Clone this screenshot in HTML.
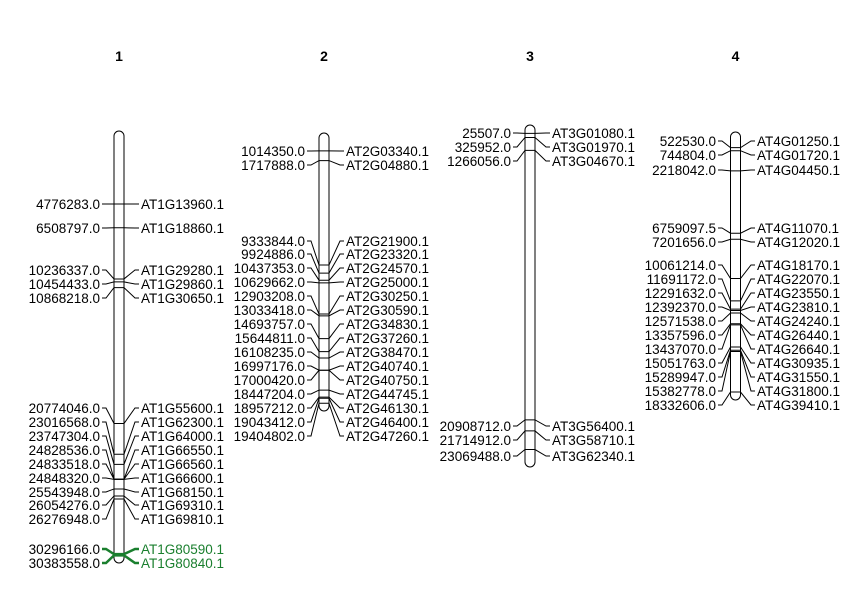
<!DOCTYPE html>
<html><head><meta charset="utf-8"><style>
html,body{margin:0;padding:0;background:#fff;}
svg text{font-family:"Liberation Sans",Arial,sans-serif;font-size:13.5px;}
</style></head><body>
<svg id="s" width="858" height="608" xmlns="http://www.w3.org/2000/svg"></svg>
<script>
var S=13.72e-6;
var chrs=[
 {n:'1',cx:119,o:138.5,top:131,bot:563,L:100,R:141,m:[
  [4776283,'AT1G13960.1',204],[6508797,'AT1G18860.1',228],[10236337,'AT1G29280.1',270],[10454433,'AT1G29860.1',284],[10868218,'AT1G30650.1',298],
  [20774046,'AT1G55600.1',408],[23016568,'AT1G62300.1',422],[23747304,'AT1G64000.1',436],[24828536,'AT1G66550.1',450],[24833518,'AT1G66560.1',464],
  [24848320,'AT1G66600.1',478],[25543948,'AT1G68150.1',492],[26054276,'AT1G69310.1',505],[26276948,'AT1G69810.1',519],
  [30296166,'AT1G80590.1',549,1],[30383558,'AT1G80840.1',563,1]]},
 {n:'2',cx:324,o:137,top:133,bot:411,L:305,R:346,m:[
  [1014350,'AT2G03340.1',151],[1717888,'AT2G04880.1',165],[9333844,'AT2G21900.1',241],[9924886,'AT2G23320.1',254],[10437353,'AT2G24570.1',268],
  [10629662,'AT2G25000.1',282],[12903208,'AT2G30250.1',296],[13033418,'AT2G30590.1',310],[14693757,'AT2G34830.1',324],[15644811,'AT2G37260.1',338],
  [16108235,'AT2G38470.1',352],[16997176,'AT2G40740.1',366],[17000420,'AT2G40750.1',380],[18447204,'AT2G44745.1',394],[18957212,'AT2G46130.1',408],
  [19043412,'AT2G46400.1',422],[19404802,'AT2G47260.1',436]]},
 {n:'3',cx:530,o:133,top:125,bot:467,L:511,R:552,m:[
  [25507,'AT3G01080.1',133],[325952,'AT3G01970.1',147],[1266056,'AT3G04670.1',161],
  [20908712,'AT3G56400.1',426],[21714912,'AT3G58710.1',440],[23069488,'AT3G62340.1',456]]},
 {n:'4',cx:735.5,o:140.5,top:132,bot:400,L:716,R:757,m:[
  [522530,'AT4G01250.1',141],[744804,'AT4G01720.1',155],[2218042,'AT4G04450.1',170],[6759097.5,'AT4G11070.1',228],[7201656,'AT4G12020.1',242],
  [10061214,'AT4G18170.1',265],[11691172,'AT4G22070.1',279],[12291632,'AT4G23550.1',293],[12392370,'AT4G23810.1',307],[12571538,'AT4G24240.1',321],
  [13357596,'AT4G26440.1',335],[13437070,'AT4G26640.1',349],[15051763,'AT4G30935.1',363],[15289947,'AT4G31550.1',377],[15382778,'AT4G31800.1',391],
  [18332606,'AT4G39410.1',405]]}
];
var h='';
chrs.forEach(function(c){
 h+='<text x="'+c.cx+'" y="61" text-anchor="middle" style="font-weight:bold;font-size:14px">'+c.n+'</text>';
 h+='<rect x="'+(c.cx-5)+'" y="'+c.top+'" width="10" height="'+(c.bot-c.top)+'" rx="5" ry="5" fill="none" stroke="#000" stroke-width="1"/>';
 c.m.forEach(function(m){
  var my=c.o+m[0]*S, ly=m[2], g=m[3];
  var col=g?'#1a7f2e':'#000', sw=g?2.5:1;
  var pos=(m[0]%1===0)?m[0]+'.0':String(m[0]);
  h+='<polyline fill="none" stroke="'+col+'" stroke-width="'+sw+'" points="'+(c.L+2)+','+ly+' '+(c.L+6)+','+ly+' '+(c.cx-5)+','+my+' '+(c.cx+5)+','+my+' '+(c.R-6)+','+ly+' '+(c.R-2)+','+ly+'"/>';
  h+='<text x="'+c.L+'" y="'+(ly+5)+'" text-anchor="end">'+pos+'</text>';
  h+='<text x="'+c.R+'" y="'+(ly+5)+'" fill="'+col+'">'+m[1]+'</text>';
 });
});
document.getElementById('s').innerHTML=h;
</script>
</body></html>
